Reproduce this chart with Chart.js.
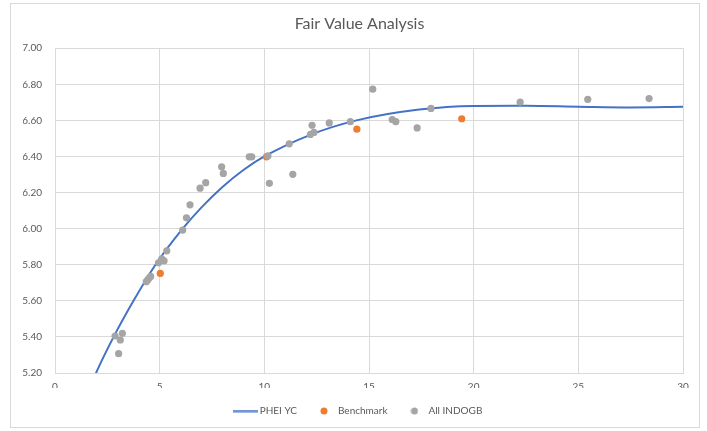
<!DOCTYPE html>
<html>
<head>
<meta charset="utf-8">
<script src="https://cdn.jsdelivr.net/npm/chart.js@4/dist/chart.umd.min.js"></script>
<style>
html,body{margin:0;padding:0;background:#fff;}
#wrap{width:707px;height:431px;}
</style>
</head>
<body>
<div id="wrap"><canvas id="c" width="707" height="431"></canvas></div>
<script>
const chartTitle = "Fair Value Analysis";
const seriesNames = ["PHEI YC", "Benchmark", "All INDOGB"];

// PHEI yield curve (tenor, yield)
const curveX = [1.5, 2.0, 2.8, 3.75, 4.8, 6.1, 7.0, 8.0, 9.0, 10.0, 12.2, 14.4, 17.4, 20.0, 22.5, 25.0, 27.5, 30.0];
const curveY = [5.07, 5.21, 5.40, 5.60, 5.80, 6.00, 6.118, 6.231, 6.325, 6.40, 6.52, 6.60, 6.66, 6.68, 6.681, 6.676, 6.672, 6.675];

// Benchmark bonds
const benchX = [5.03, 10.10, 14.42, 19.43];
const benchY = [5.752, 6.398, 6.551, 6.609];

// All INDOGB bonds
const bondX = [2.87, 3.22, 3.12, 3.04, 4.36, 4.43, 4.50, 4.57, 4.94, 5.10, 5.21, 5.34,
               6.10, 6.28, 6.45, 6.93, 7.20, 7.96, 8.04, 9.28, 9.40, 10.17, 10.24,
               11.19, 11.36, 12.20, 12.28, 12.37, 13.10, 14.11, 15.18, 16.11, 16.28, 17.30, 17.96,
               22.22, 25.45, 28.38];
const bondY = [5.405, 5.420, 5.383, 5.307, 5.706, 5.716, 5.726, 5.735, 5.811, 5.832, 5.822, 5.877,
               5.992, 6.060, 6.132, 6.224, 6.255, 6.343, 6.306, 6.398, 6.398, 6.403, 6.251,
               6.470, 6.301, 6.522, 6.573, 6.533, 6.586, 6.593, 6.773, 6.605, 6.593, 6.558, 6.666,
               6.701, 6.716, 6.721];

const xMin = 0, xMax = 30, xStep = 5;
const yMin = 5.2, yMax = 7.0, yStep = 0.2;

const colBlue = "#4472C4", colOrange = "#ED7D31", colGray = "#A5A5A5";
const textCol = "#595959", gridCol = "#D9D9D9";
const FONT = "Lato, 'Open Sans', 'Liberation Sans', sans-serif";

function pts(xs, ys){ return xs.map((x,i)=>({x:x, y:ys[i]})); }

function icon(kind, color){
  const c = document.createElement('canvas');
  if (kind === 'line'){ c.width = 25; c.height = 3; const g = c.getContext('2d'); g.fillStyle = color; g.fillRect(0,0.5,25,2); }
  else { c.width = 8; c.height = 8; const g = c.getContext('2d'); g.fillStyle = color; g.beginPath(); g.arc(4,4,3.5,0,Math.PI*2); g.fill(); }
  return c;
}
const icons = [icon('line', colBlue), icon('dot', colOrange), icon('dot', colGray)];

const frame = {
  id: 'frame',
  beforeDraw(chart){
    const ctx = chart.ctx;
    ctx.save();
    ctx.fillStyle = '#fff';
    ctx.fillRect(0,0,chart.width,chart.height);
    ctx.strokeStyle = gridCol;
    ctx.lineWidth = 1;
    ctx.strokeRect(10.5, 3.5, 689, 424);
    ctx.restore();
  }
};

new Chart(document.getElementById('c'), {
  type: 'scatter',
  data: {
    datasets: [
      { label: seriesNames[0], data: pts(curveX, curveY), showLine: true, borderColor: colBlue, backgroundColor: colBlue,
        borderWidth: 2, pointRadius: 0, pointHoverRadius: 0, cubicInterpolationMode: 'monotone', order: 2 },
      { label: seriesNames[1], data: pts(benchX, benchY), backgroundColor: colOrange, borderColor: colOrange,
        borderWidth: 0, pointRadius: 3.6, order: 1 },
      { label: seriesNames[2], data: pts(bondX, bondY), backgroundColor: colGray, borderColor: colGray,
        borderWidth: 0, pointRadius: 3.6, order: 0 }
    ]
  },
  options: {
    responsive: false,
    animation: false,
    events: [],
    layout: { padding: { left: 23, right: 11, top: 0, bottom: 5 } },
    scales: {
      x: {
        type: 'linear', min: xMin, max: xMax,
        ticks: { stepSize: xStep, color: textCol, font: { family: FONT, size: 10 }, padding: 8 },
        grid: { color: gridCol, drawTicks: false },
        border: { color: gridCol },
        afterFit(s){ s.height = 15; }
      },
      y: {
        type: 'linear', min: yMin, max: yMax,
        ticks: { stepSize: yStep, color: textCol, font: { family: FONT, size: 10 }, padding: 13,
                 callback: v => Number(v).toFixed(2) },
        grid: { color: gridCol, drawTicks: false },
        border: { color: gridCol },
        afterFit(s){ s.width = 32; }
      },
      y2: {
        type: 'linear', position: 'right', display: true,
        ticks: { display: false }, grid: { display: false, drawTicks: false }, border: { display: false },
        afterFit(s){ s.width = 13; }
      }
    },
    plugins: {
      title: { display: true, text: chartTitle, color: textCol, font: { family: FONT, size: 16, weight: 'normal' },
               padding: { top: 14, bottom: 15 } },
      legend: {
        position: 'bottom',
        maxHeight: 43,
        labels: {
          usePointStyle: true, pointStyleWidth: 18, boxHeight: 10,
          padding: 18, color: textCol, font: { family: FONT, size: 10 },
          sort: (a,b) => a.datasetIndex - b.datasetIndex,
          generateLabels(chart){
            const items = Chart.defaults.plugins.legend.labels.generateLabels(chart);
            items.forEach(it => { it.pointStyle = icons[it.datasetIndex]; });
            return items;
          }
        }
      },
      tooltip: { enabled: false }
    }
  },
  plugins: [frame]
});
</script>
</body>
</html>
